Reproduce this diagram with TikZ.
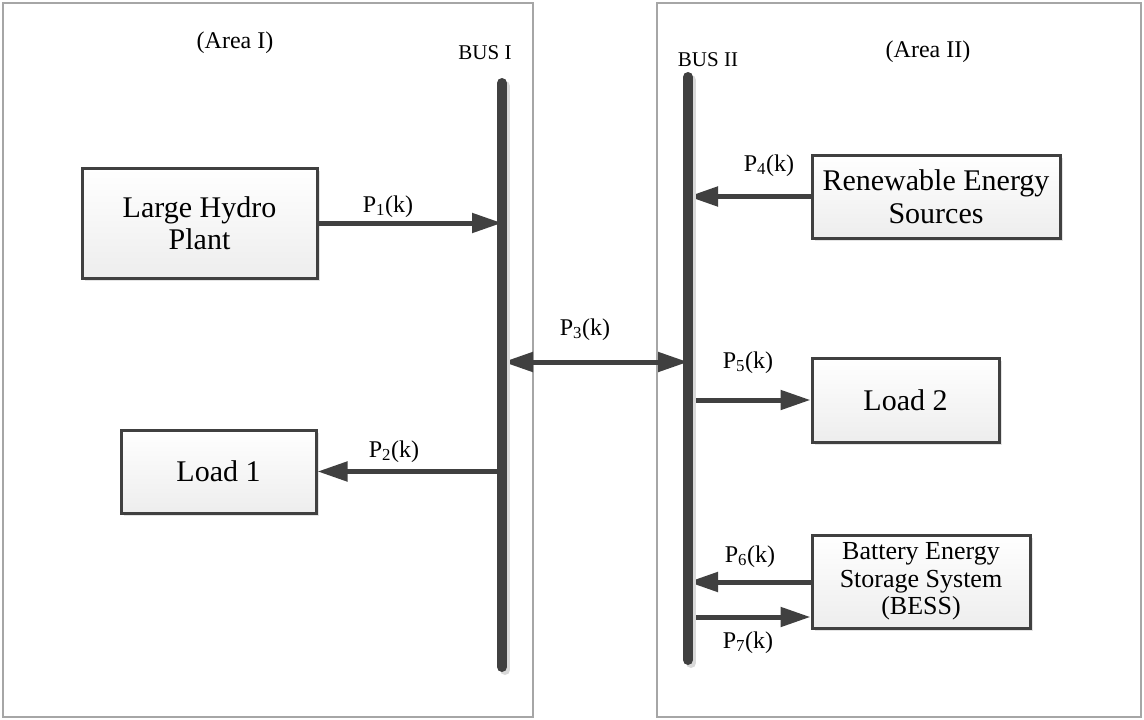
\documentclass[tikz,border=0pt]{standalone}
\usepackage{fontspec}
\setmainfont{Liberation Serif}
\usetikzlibrary{arrows.meta,shadows}
\definecolor{dk}{HTML}{404040}
\begin{document}
\begin{tikzpicture}[x=1pt,y=-1pt,
  areabox/.style={draw=gray!70, line width=1.2pt},
  blk/.style={draw=dk, line width=3pt, top color=white, bottom color=gray!14,
    inner sep=0pt, align=center, font=\fontsize{30}{32.5}\selectfont,
    drop shadow={shadow xshift=3pt, shadow yshift=-3pt, fill=gray!35, opacity=0.6}},
  bess/.style={blk, font=\fontsize{26}{27.5}\selectfont},
  flow/.style={draw=dk, line width=5pt, -{Triangle[length=30pt,width=19pt]}},
  biflow/.style={draw=dk, line width=5pt, {Triangle[length=30pt,width=19pt]}-{Triangle[length=30pt,width=19pt]}},
  busline/.style={draw=dk, line width=10pt, line cap=round},
  lbl/.style={anchor=base, inner sep=0pt, font=\fontsize{24}{26}\selectfont},
  buslbl/.style={anchor=base, inner sep=0pt, font=\fontsize{21}{23}\selectfont},
  arealbl/.style={anchor=base, inner sep=0pt, font=\fontsize{24}{26}\selectfont}]
\useasboundingbox (0,0) rectangle (1144,720);
% areas
\draw[areabox] (3,3) rectangle (533,717);
\draw[areabox] (657,3) rectangle (1141,717);
\node[arealbl] (a1) at (235,48) {(Area I)};
\node[arealbl] (a2) at (928,57) {(Area II)};
\node[buslbl] (bl1) at (485,59) {BUS I};
\node[buslbl] (bl2) at (708,66) {BUS II};
% bus coordinates
\coordinate (b1t) at (502,83);
\coordinate (b1b) at (502,667);
\coordinate (b2t) at (688,77);
\coordinate (b2b) at (688,660);
% blocks
\node[blk, minimum width=235pt, minimum height=110pt] (hydro) at (199.5,223) {Large Hydro\\Plant};
\node[blk, minimum width=195pt, minimum height=83pt] (load1) at (218.5,471.5) {Load 1};
\node[blk, minimum width=248pt, minimum height=83pt] (res) at (936,196.5) {Renewable Energy\\Sources};
\node[blk, minimum width=187pt, minimum height=84pt] (load2) at (905.5,400) {Load 2};
\node[bess, minimum width=218pt, minimum height=93pt] (bess) at (921,581.5) {Battery Energy\\Storage System\\(BESS)};
% connection points
\coordinate (c1) at (hydro.east -| b1t);
\coordinate (c2) at (load1.east -| b1t);
\coordinate (c3a) at (503,362);
\coordinate (c3b) at (688,362);
\coordinate (c4) at (res.west -| b2t);
\coordinate (c5) at (load2.west -| b2t);
\coordinate (c6s) at (bess.west |- 0,582);
\coordinate (c6) at (688,582);
\coordinate (c7) at (688,617);
\coordinate (c7e) at (bess.west |- 0,617);
% flows
\draw[flow] (hydro.east) -- (c1);
\draw[flow] (c2) -- (load1.east);
\draw[biflow] (c3a) -- (c3b);
\draw[flow] (res.west) -- (c4);
\draw[flow] (c5) -- (load2.west);
\draw[flow] (c6s) -- (c6);
\draw[flow] (c7) -- (c7e);
% buses
\draw[busline, draw=gray!30] ([xshift=3pt,yshift=-3pt]b1t) -- ([xshift=3pt,yshift=-3pt]b1b);
\draw[busline, draw=gray!30] ([xshift=3pt,yshift=-3pt]b2t) -- ([xshift=3pt,yshift=-3pt]b2b);
\draw[busline] (b1t) -- (b1b);
\draw[busline] (b2t) -- (b2b);
% labels
\node[lbl] (p1) at (388,212) {P\textsubscript{1}(k)};
\node[lbl] (p2) at (394,457) {P\textsubscript{2}(k)};
\node[lbl] (p3) at (585,335) {P\textsubscript{3}(k)};
\node[lbl] (p4) at (769,171) {P\textsubscript{4}(k)};
\node[lbl] (p5) at (748,368) {P\textsubscript{5}(k)};
\node[lbl] (p6) at (750,562) {P\textsubscript{6}(k)};
\node[lbl] (p7) at (748,648) {P\textsubscript{7}(k)};
\end{tikzpicture}
\end{document}
